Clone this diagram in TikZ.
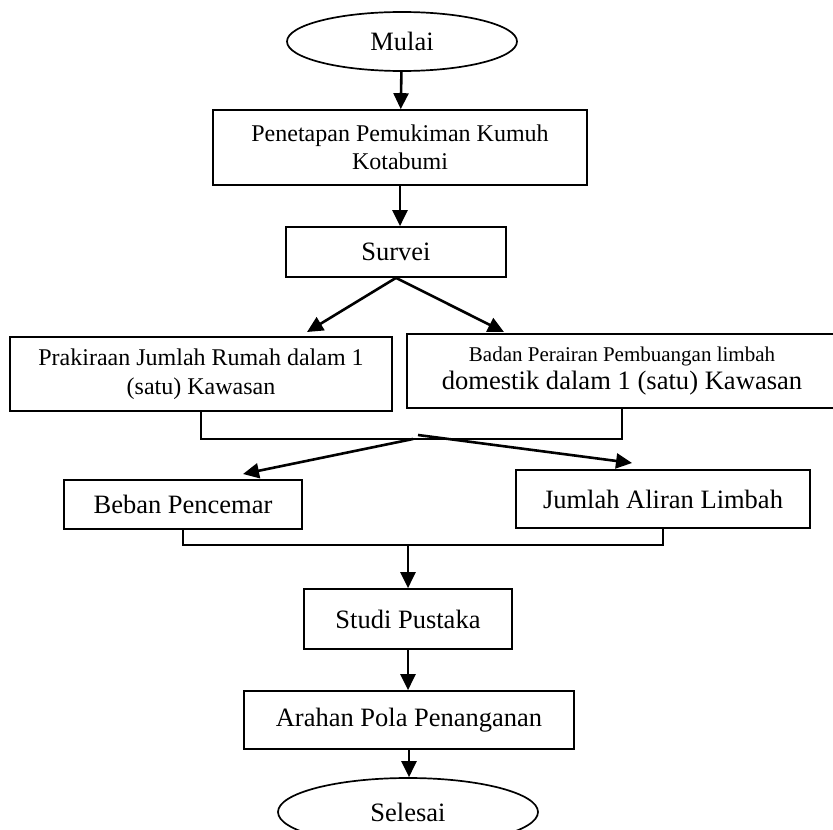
\documentclass[tikz,border=0pt]{standalone}
\usepackage{fontspec}
\setmainfont{Liberation Serif}
\usetikzlibrary{shapes.geometric,arrows.meta}

\begin{document}
\begin{tikzpicture}[x=5pt,y=5pt]
\tikzstyle{every node}+=[inner sep=0pt]
\tikzstyle{kotak}=[draw=black,line width=0.85pt,rectangle,align=center,font=\fontsize{13.25}{14.5}\selectfont]
\tikzstyle{oval}=[draw=black,line width=0.85pt,ellipse,font=\fontsize{13.25}{14.5}\selectfont]
\tikzstyle{panah}=[black,line width=1.3pt,-{Triangle[length=8pt,width=7.5pt]}]
\tikzstyle{garis}=[black,line width=0.85pt]
\fill [white] (0,0) rectangle (83.3,-82.9);
\useasboundingbox (0,0) rectangle (83.3,-82.9);
\node [oval,minimum width=115pt,minimum height=29.5pt] (mulai) at (40.2,-4.15) {Mulai};
\node [kotak,minimum width=187pt,minimum height=37.5pt,font=\fontsize{12}{14.2}\selectfont] (penetapan) at (40.0,-14.75) {Penetapan Pemukiman Kumuh\\Kotabumi};
\node [kotak,minimum width=110pt,minimum height=25pt] (survei) at (39.6,-25.2) {Survei};
\node [kotak,minimum width=191pt,minimum height=37pt,font=\fontsize{12}{14.5}\selectfont] (prakiraan) at (20.1,-37.4) {Prakiraan Jumlah Rumah dalam 1\\(satu) Kawasan};
\node [kotak,minimum width=215pt,minimum height=37pt,font=\fontsize{13.3}{14}\selectfont] (badan) at (62.2,-37.1) {{\fontsize{10.5}{14}\selectfont Badan Perairan Pembuangan limbah}\\domestik dalam 1 (satu) Kawasan};
\node [kotak,minimum width=119pt,minimum height=24.5pt] (beban) at (18.3,-50.45) {Beban Pencemar};
\node [kotak,minimum width=147pt,minimum height=29pt] (jumlah) at (66.3,-49.9) {Jumlah Aliran Limbah};
\node [kotak,minimum width=104pt,minimum height=30pt] (studi) at (40.8,-61.9) {Studi Pustaka};
\node [kotak,minimum width=165pt,minimum height=29pt] (arahan) at (40.9,-72.0) {Arahan Pola Penanganan};
\node [oval,minimum width=130pt,minimum height=34pt] (selesai) at (40.8,-81.2) {Selesai};
\coordinate (tipL) at (30.7,-33.2);
\coordinate (tipR) at (50.4,-33.2);
\coordinate (join1) at (41.3,-43.9);
\coordinate (joinR) at (41.8,-43.5);
\coordinate (tipBL) at (24.3,-47.4);
\coordinate (tipBR) at (63.2,-46.3);
\coordinate (join2) at (40.8,-54.5);
\draw [panah] (mulai) -- (penetapan);
\draw [panah] (penetapan) -- (penetapan |- survei.north);
\draw [panah] (survei.south) -- (tipL);
\draw [panah] (survei.south) -- (tipR);
\draw [garis] (prakiraan.south) |- (join1) -| (badan.south);
\draw [panah] (join1) -- (tipBL);
\draw [panah] (joinR) -- (tipBR);
\draw [garis] (beban.south) |- (join2) -| (jumlah.south);
\draw [panah] (join2) -- (studi);
\draw [panah] (studi) -- (studi |- arahan.north);
\draw [panah] (arahan) -- (arahan |- selesai.north);
\end{tikzpicture}
\end{document}
